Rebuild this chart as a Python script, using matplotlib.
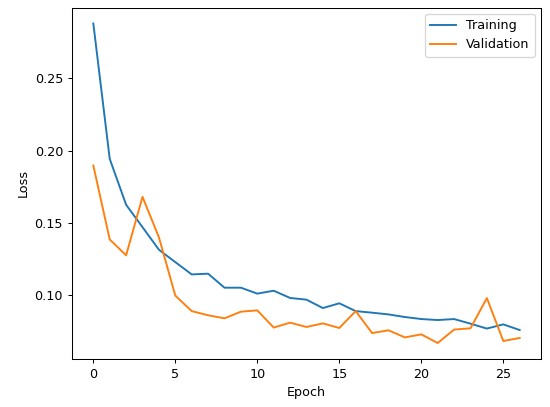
import numpy as np
import matplotlib
matplotlib.use('Agg')
import matplotlib.pyplot as plt

# loss per epoch
epochs = np.arange(27)
train_loss = [0.288, 0.1943, 0.1625, 0.147, 0.1314, 0.1228, 0.1143, 0.1148, 0.1051,
              0.1051, 0.101, 0.103, 0.098, 0.0968, 0.091, 0.0943, 0.0889, 0.0878,
              0.0866, 0.0848, 0.0834, 0.0827, 0.0834, 0.0802, 0.0768, 0.0797, 0.0758]
val_loss = [0.1897, 0.1385, 0.1275, 0.168, 0.140, 0.0996, 0.0889, 0.086, 0.0839,
            0.0885, 0.0894, 0.0775, 0.0809, 0.0779, 0.0804, 0.0772, 0.0889, 0.0737,
            0.0756, 0.0707, 0.0728, 0.0668, 0.0761, 0.077, 0.0979, 0.0682, 0.0703]

dpi = 92
fig = plt.figure(figsize=(550/dpi, 407/dpi), dpi=dpi)
ax = fig.add_axes([72/550, 1-359/407, (541-72)/550, (359-7.5)/407])
ax.plot(epochs, train_loss, label='Training')
ax.plot(epochs, val_loss, label='Validation')
ax.set_xlabel('Epoch')
ax.set_ylabel('Loss')
ax.legend(loc='upper right')
fig.savefig('out.png', dpi=dpi)
